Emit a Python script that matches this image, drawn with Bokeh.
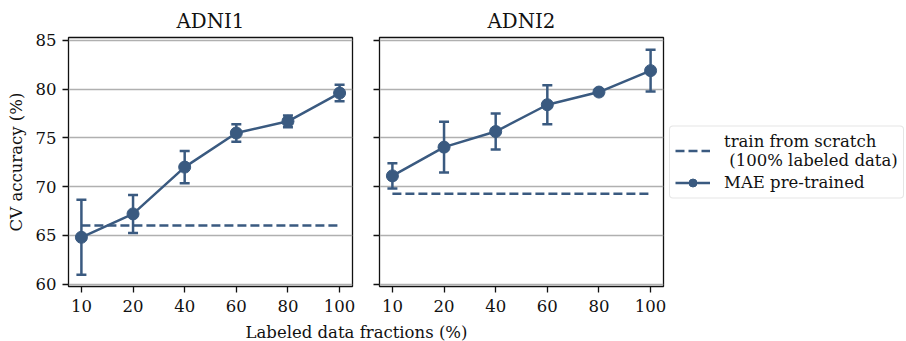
from bokeh.plotting import figure
from bokeh.models import (Range1d, FixedTicker, Legend, LegendItem, Label,
                          ColumnDataSource, Whisker, TeeHead, CustomJSTickFormatter)
from bokeh.layouts import row, column
from bokeh.embed import file_html
from bokeh.resources import INLINE

# ---------------- data ----------------
fractions = ["10", "20", "40", "60", "80", "100"]
titles = ["ADNI1", "ADNI2"]

adni1_mean = [64.8, 67.2, 72.0, 75.5, 76.7, 79.6]
adni1_err = [3.85, 1.95, 1.65, 0.9, 0.6, 0.85]
adni1_scratch = 66.0

adni2_mean = [71.1, 74.05, 75.65, 78.4, 79.7, 81.9]
adni2_err = [1.3, 2.6, 1.85, 2.0, 0.3, 2.15]
adni2_scratch = 69.27

y_ticks = [60, 65, 70, 75, 80, 85]

COLOR = "#3a5a80"
FONT = "DejaVu Serif"
FS = "16.5px"
TXT = "#111111"

idx = list(range(len(fractions)))


def make_panel(title, mean, err, scratch, first, min_left, min_right):
    p = figure(frame_width=284, frame_height=249, output_backend="svg", toolbar_location=None,
               x_range=Range1d(-0.25, len(fractions) - 0.75),
               y_range=Range1d(59.75, 85.3),
               min_border_left=min_left, min_border_right=min_right,
               min_border_top=37, min_border_bottom=30)
    p.title.text = title
    p.title.align = "center"
    p.title.text_font = FONT
    p.title.text_font_size = "19.8px"
    p.title.text_font_style = "normal"
    p.title.text_color = TXT
    p.title.standoff = 9

    p.outline_line_color = TXT
    p.outline_line_width = 1.3
    p.outline_line_alpha = 1.0
    p.background_fill_color = "white"
    p.border_fill_color = "white"

    p.xgrid.grid_line_color = None
    p.ygrid.grid_line_color = "#b0b0b0"
    p.ygrid.grid_line_width = 1.3
    p.yaxis.ticker = FixedTicker(ticks=y_ticks)
    p.xaxis.ticker = FixedTicker(ticks=idx)
    p.xaxis.major_label_overrides = {i: f for i, f in zip(idx, fractions)}

    for ax in (p.xaxis[0], p.yaxis[0]):
        ax.axis_line_color = None
        ax.major_tick_line_color = TXT
        ax.major_tick_line_width = 1.3
        ax.major_tick_out = 6
        ax.major_tick_in = 0
        ax.minor_tick_line_color = None
        ax.major_label_text_font = FONT
        ax.major_label_text_font_size = FS
        ax.major_label_text_color = TXT
        ax.axis_label_text_font = FONT
        ax.axis_label_text_font_size = FS
        ax.axis_label_text_font_style = "normal"
        ax.axis_label_text_color = TXT
    p.xaxis.major_label_standoff = 7
    p.yaxis.major_label_standoff = 6

    if first:
        p.yaxis.axis_label = "CV accuracy (%)"
        p.yaxis.axis_label_standoff = 7
    else:
        p.yaxis.formatter = CustomJSTickFormatter(code="return ''")
        p.yaxis.major_label_standoff = 0

    upper = [m + e for m, e in zip(mean, err)]
    lower = [m - e for m, e in zip(mean, err)]
    src = ColumnDataSource(dict(x=idx, y=mean, upper=upper, lower=lower,
                                base=[scratch] * len(idx)))

    r_dash = p.line("x", "base", source=src, line_color=COLOR, line_width=2.5,
                    line_dash="9 4")
    w = Whisker(base="x", upper="upper", lower="lower", source=src,
                line_color=COLOR, line_width=2.5,
                upper_head=TeeHead(size=10, line_color=COLOR, line_width=2.5),
                lower_head=TeeHead(size=10, line_color=COLOR, line_width=2.5))
    p.add_layout(w)
    r_line = p.line("x", "y", source=src, line_color=COLOR, line_width=2.5)
    r_pt = p.scatter("x", "y", source=src, size=12, fill_color=COLOR, line_color=COLOR)
    return p, r_dash, r_line, r_pt


p1, _, _, _ = make_panel(titles[0], adni1_mean, adni1_err, adni1_scratch, True, 68, 5)
p2, d2, l2, s2 = make_panel(titles[1], adni2_mean, adni2_err, adni2_scratch, False, 22, 0)

legend = Legend(items=[
    LegendItem(label="train from scratch\n (100% labeled data)", renderers=[d2]),
    LegendItem(label="MAE pre-trained", renderers=[l2, s2]),
], location="left")
legend.label_text_font = FONT
legend.label_text_font_size = FS
legend.label_text_color = TXT
legend.glyph_width = 35
legend.label_standoff = 14
legend.padding = 5
legend.spacing = 3
legend.margin = 6
legend.border_line_color = "#cccccc"
legend.border_line_width = 1
legend.border_radius = 4
legend.background_fill_alpha = 0.8
p2.add_layout(legend, "right")

p3 = figure(width=906, height=25, output_backend="svg", toolbar_location=None,
            x_range=Range1d(0, 1), y_range=Range1d(0, 1), x_axis_type=None, y_axis_type=None,
            min_border=0)
p3.outline_line_color = None
p3.grid.visible = False
p3.add_layout(Label(x=356, y=9, x_units="screen", y_units="screen",
                    text="Labeled data fractions (%)", text_font=FONT,
                    text_font_size=FS, text_color=TXT,
                    text_align="center", text_baseline="middle"))

layout = column(row(p1, p2), p3)
open("out.html", "w").write(file_html(layout, INLINE))
